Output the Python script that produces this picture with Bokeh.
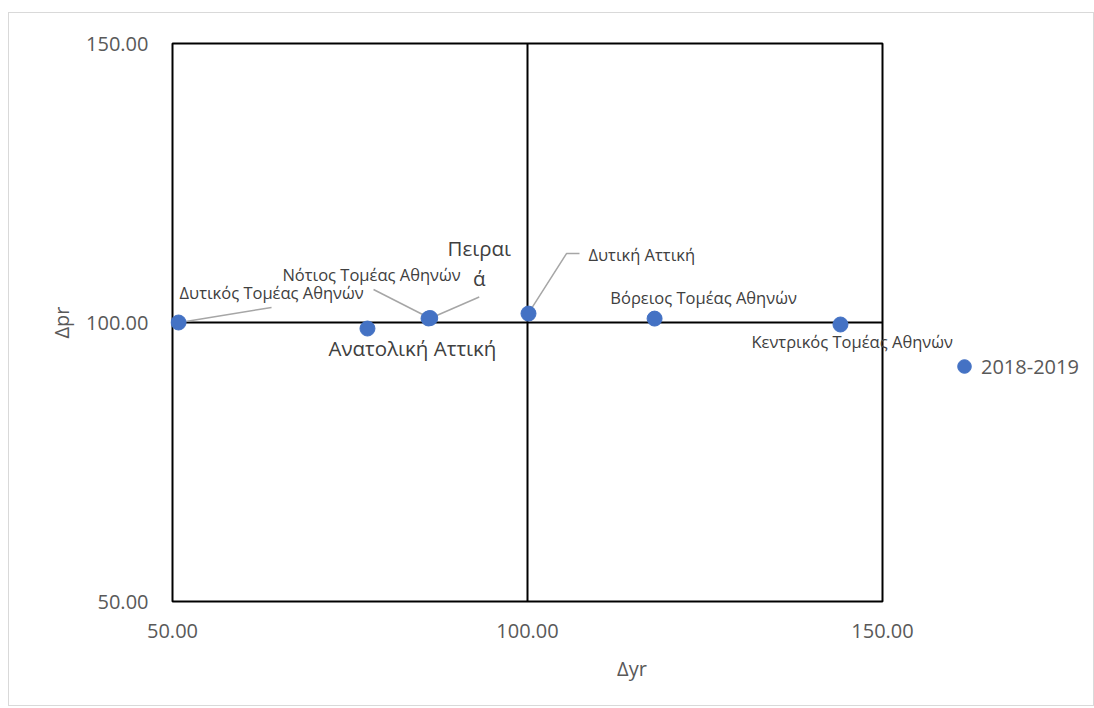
from bokeh.plotting import figure
from bokeh.models import (Legend, LegendItem, ColumnDataSource, FixedTicker,
                          CustomJSTickFormatter, LabelSet)
from bokeh.core.properties import value
from bokeh.embed import file_html
from bokeh.resources import INLINE

# ---- data ----
names = ["Δυτικός Τομέας Αθηνών", "Ανατολική Αττική", "Νότιος Τομέας Αθηνών", "Πειραιά",
         "Δυτική Αττική", "Βόρειος Τομέας Αθηνών", "Κεντρικός Τομέας Αθηνών"]
dyr = [50.85, 77.46, 86.06, 86.3, 100.14, 117.9, 144.08]
dpr = [100.0, 98.92, 100.72, 100.8, 101.6, 100.7, 99.64]
ticks = [50, 100, 150]
series_name = "2018-2019"

# ---- layout (pixels) ----
W, H = 1086, 694              # figure size (placed at page x=8, y=12)
BOX_L, BOX_R, BOX_T, BOX_B = 171, 881, 42, 600   # page px of the 50..150 box
PAD = 2
X0, X1, Y0, Y1 = ticks[0], ticks[-1], ticks[0], ticks[-1]
sx = (BOX_R - BOX_L) / (X1 - X0)
sy = (BOX_B - BOX_T) / (Y1 - Y0)
FR_L, FR_R, FR_T, FR_B = BOX_L - PAD, 1092, BOX_T - PAD, BOX_B + PAD
ML, MR = FR_L - 8, 8 + W - FR_R
MT, MB = FR_T - 12, 12 + H - FR_B
FONT = "Open Sans"

# label lines: (point index, text, dx, dy, align, size) -- dx/dy in px from the point
label_lines = [
    (0, "Δυτικός Τομέας Αθηνών", 1, -30, "left", "16.5px"),
    (1, "Ανατολική Αττική", 45, 19, "center", "20.5px"),
    (2, "Νότιος Τομέας Αθηνών", -57, -44, "center", "16.5px"),
    (3, "Πειραι", 49, -70, "center", "20.5px"),
    (3, "ά", 49, -40, "center", "20.5px"),
    (4, "Δυτική Αττική", 60, -59, "left", "16.5px"),
    (5, "Βόρειος Τομέας Αθηνών", 49, -21, "center", "16.5px"),
    (6, "Κεντρικός Τομέας Αθηνών", -89, 17, "left", "16.5px"),
]

# leader lines (pixel offsets from point)
leaders = {0: [(93, -15), (1, 0)],
           2: [(-55, -29), (0, -1)],
           3: [(49, -21), (3, -1)],
           4: [(51, -60), (38, -60), (1, -2)]}

p = figure(width=W, height=H, output_backend="svg", toolbar_location=None,
           x_range=(X0 - (BOX_L - FR_L) / sx, X1 + (FR_R - BOX_R) / sx),
           y_range=(Y0 - (FR_B - BOX_B) / sy, Y1 + (BOX_T - FR_T) / sy),
           min_border_left=ML, min_border_right=MR, min_border_top=MT, min_border_bottom=MB)
p.margin = (12, 0, 0, 8)
p.styles = {"border": "1px solid #d9d9d9"}
p.grid.visible = False
p.outline_line_color = None
p.background_fill_color = "white"
p.border_fill_color = "white"

for ax in (p.xaxis[0], p.yaxis[0]):
    ax.ticker = FixedTicker(ticks=ticks)
    ax.formatter = CustomJSTickFormatter(code="return tick.toFixed(2);")
    ax.axis_line_color = None
    ax.major_tick_line_color = None
    ax.minor_tick_line_color = None
    ax.major_label_text_font = FONT
    ax.major_label_text_font_size = "20px"
    ax.major_label_text_color = "#595959"
    ax.axis_label_text_font = FONT
    ax.axis_label_text_font_size = "20px"
    ax.axis_label_text_font_style = "normal"
    ax.axis_label_text_color = "#595959"

p.xaxis.axis_label = "Δyr"
p.yaxis.axis_label = "Δpr"
p.xaxis.major_label_standoff = 14
p.yaxis.major_label_standoff = 16
p.xaxis.axis_label_standoff = 14
p.yaxis.axis_label_standoff = 8
p.yaxis.major_label_orientation = "horizontal"

# plot box (axis limits) and the cross at 100
p.quad(left=[X0], right=[X1], bottom=[Y0], top=[Y1], fill_color=None,
       line_color="black", line_width=2)
p.segment(x0=[ticks[1], X0], y0=[Y0, ticks[1]], x1=[ticks[1], X1], y1=[Y1, ticks[1]],
          line_color="black", line_width=2)

# leader lines
lx, ly = [], []
for i, pts in leaders.items():
    lx.append([dyr[i] + dx / sx for dx, dy in pts])
    ly.append([dpr[i] - dy / sy for dx, dy in pts])
p.multi_line(lx, ly, line_color="#a6a6a6", line_width=1.5)

src = ColumnDataSource(dict(x=dyr, y=dpr, name=names))
r = p.scatter("x", "y", source=src, size=15, fill_color="#4472C4", line_color="#4472C4")

lab_src = ColumnDataSource(dict(
    x=[dyr[l[0]] for l in label_lines], y=[dpr[l[0]] for l in label_lines],
    text=[l[1] for l in label_lines], dx=[l[2] for l in label_lines],
    dy=[-l[3] for l in label_lines], align=[l[4] for l in label_lines],
    size=[l[5] for l in label_lines]))
labels = LabelSet(x="x", y="y", text="text", source=lab_src, x_offset="dx", y_offset="dy",
                  text_align="align", text_baseline="middle", text_font_size="size",
                  text_font=value(FONT), text_color="#404040")
p.add_layout(labels)

GL = 34
legend = Legend(items=[LegendItem(label=series_name, renderers=[r])],
                location=(963 - GL // 2 - FR_L, FR_B - 365 - GL // 2), orientation="vertical",
                label_text_font=FONT, label_text_font_size="20px", label_text_color="#595959",
                glyph_width=GL, glyph_height=GL, label_standoff=0, spacing=0, padding=0,
                margin=0, border_line_color=None, background_fill_alpha=0)
p.add_layout(legend, "center")

open("out.html", "w").write(file_html(p, INLINE))
